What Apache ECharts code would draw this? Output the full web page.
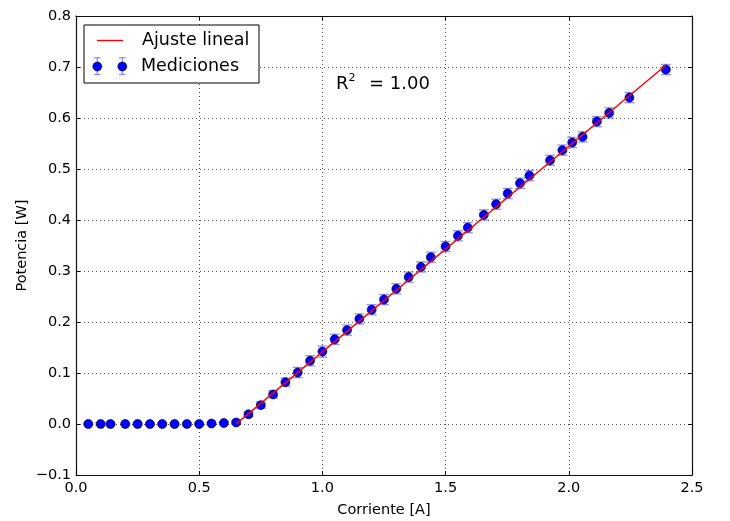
<!DOCTYPE html>
<html>
<head>
<meta charset="utf-8">
<script src="https://cdn.jsdelivr.net/npm/echarts@6/dist/echarts.min.js"></script>
<style>html,body{margin:0;padding:0;background:#fff;overflow:hidden;}#c{width:730px;height:521px;}</style>
</head>
<body>
<div id="c"></div>
<script>
// Data
const corriente = [0.05,0.10,0.14,0.20,0.25,0.30,0.35,0.40,0.45,0.50,0.55,0.60,0.65,0.70,0.75,0.80,0.85,0.90,0.95,1.00,1.05,1.10,1.15,1.20,1.25,1.30,1.35,1.40,1.44,1.50,1.55,1.59,1.655,1.705,1.752,1.802,1.84,1.924,1.974,2.014,2.056,2.114,2.164,2.246,2.394];
const potencia = [0,0,0,0,0,0,0,0,0,0,0.001,0.002,0.003,0.019,0.037,0.058,0.082,0.101,0.124,0.142,0.166,0.184,0.206,0.224,0.244,0.265,0.288,0.308,0.327,0.348,0.369,0.385,0.410,0.431,0.452,0.472,0.487,0.517,0.537,0.552,0.563,0.593,0.610,0.640,0.695];
const errores = [0.002,0.002,0.002,0.002,0.002,0.002,0.002,0.002,0.002,0.002,0.002,0.002,0.003,0.005,0.006,0.007,0.008,0.010,0.010,0.011,0.010,0.010,0.010,0.010,0.010,0.010,0.010,0.010,0.010,0.010,0.010,0.010,0.010,0.010,0.010,0.010,0.010,0.010,0.010,0.010,0.010,0.010,0.010,0.010,0.010];
const ajusteX = [0.65, 2.394];
const ajusteY = [0.0002, 0.7035];
const xTicks = [0.0, 0.5, 1.0, 1.5, 2.0, 2.5];
const yTicks = [-0.1, 0.0, 0.1, 0.2, 0.3, 0.4, 0.5, 0.6, 0.7, 0.8];

const FONT = 'DejaVu Sans';
const fmt = v => (v < 0 ? '\u2212' : '') + Math.abs(v).toFixed(1);

const puntos = corriente.map((x, i) => [x, potencia[i]]);
const barras = corriente.map((x, i) => [x, potencia[i] - errores[i], potencia[i] + errores[i]]);
const ajuste = ajusteX.map((x, i) => [x, ajusteY[i]]);

const chart = echarts.init(document.getElementById('c'), null, {renderer: 'canvas', width: 730, height: 521});
const ERR = 'rgba(40,40,255,0.5)';

const baseAxis = {
  type: 'value',
  axisLine: {show: true, onZero: false, lineStyle: {color: '#111', width: 1.2}},
  axisTick: {show: true, inside: true, length: 4, lineStyle: {color: '#000'}},
  splitLine: {show: false}
};

chart.setOption({
  animation: false,
  backgroundColor: '#fff',
  grid: {left: 76, right: 38, top: 16, bottom: 46, containLabel: false, outerBoundsMode: 'none'},
  xAxis: [
    Object.assign({}, baseAxis, {
      min: xTicks[0], max: xTicks[xTicks.length - 1], interval: 0.5,
      position: 'bottom',
      name: 'Corriente [A]', nameLocation: 'middle', nameGap: 28,
      nameTextStyle: {fontFamily: FONT, fontSize: 14.5, color: '#000'},
      axisLabel: {formatter: fmt, fontFamily: FONT, fontSize: 14.5, color: '#000', margin: 6},
      splitLine: {show: true, lineStyle: {color: '#555', type: [1, 3], width: 1}}
    }),
    Object.assign({}, baseAxis, {
      min: xTicks[0], max: xTicks[xTicks.length - 1], interval: 0.5,
      position: 'top', axisLabel: {show: false}
    })
  ],
  yAxis: [
    Object.assign({}, baseAxis, {
      min: yTicks[0], max: yTicks[yTicks.length - 1], interval: 0.1,
      position: 'left',
      name: 'Potencia [W]', nameLocation: 'middle', nameGap: 46, nameMoveOverlap: false,
      nameTextStyle: {fontFamily: FONT, fontSize: 14.5, color: '#000'},
      axisLabel: {formatter: fmt, fontFamily: FONT, fontSize: 14.5, color: '#000', margin: 5},
      splitLine: {show: true, lineStyle: {color: '#555', type: [1, 3], width: 1}}
    }),
    Object.assign({}, baseAxis, {
      min: yTicks[0], max: yTicks[yTicks.length - 1], interval: 0.1,
      position: 'right', axisLabel: {show: false}
    })
  ],
  series: [
    {
      type: 'custom', name: 'errores', xAxisIndex: 0, yAxisIndex: 0, z: 2,
      data: barras,
      renderItem: function (params, api) {
        const x = api.value(0);
        const lo = api.coord([x, api.value(1)]);
        const hi = api.coord([x, api.value(2)]);
        const st = {stroke: ERR, lineWidth: 1.3};
        return {type: 'group', children: [
          {type: 'line', shape: {x1: lo[0], y1: lo[1], x2: hi[0], y2: hi[1]}, style: st},
          {type: 'line', shape: {x1: lo[0] - 5, y1: lo[1], x2: lo[0] + 5, y2: lo[1]}, style: st},
          {type: 'line', shape: {x1: hi[0] - 5, y1: hi[1], x2: hi[0] + 5, y2: hi[1]}, style: st}
        ]};
      }
    },
    {
      type: 'scatter', name: 'Mediciones', z: 3, data: puntos,
      symbol: 'circle', symbolSize: 9,
      itemStyle: {color: '#0000ff', borderColor: '#000', borderWidth: 0.6, opacity: 1}
    },
    {
      type: 'line', name: 'Ajuste lineal', z: 4, data: ajuste,
      showSymbol: false, symbol: 'none',
      lineStyle: {color: '#ff0000', width: 1.4}
    }
  ],
  graphic: [
    {type: 'rect', shape: {x: 84, y: 25, width: 175, height: 58}, style: {fill: '#fff', stroke: '#000', lineWidth: 1}, z: 10},
    {type: 'line', shape: {x1: 97, y1: 40.5, x2: 123, y2: 40.5}, style: {stroke: '#ff0000', lineWidth: 1.4}, z: 11},
    {type: 'text', x: 142, y: 40.5, style: {text: 'Ajuste lineal', fontFamily: FONT, fontSize: 17.5, fill: '#000', verticalAlign: 'middle', align: 'left'}, z: 11},
    {type: 'line', shape: {x1: 97.3, y1: 57.7, x2: 97.3, y2: 74.5}, style: {stroke: ERR, lineWidth: 1.3}, z: 11},
    {type: 'line', shape: {x1: 94, y1: 57.7, x2: 100.6, y2: 57.7}, style: {stroke: ERR, lineWidth: 1.3}, z: 11},
    {type: 'line', shape: {x1: 94, y1: 74.5, x2: 100.6, y2: 74.5}, style: {stroke: ERR, lineWidth: 1.3}, z: 11},
    {type: 'line', shape: {x1: 122.3, y1: 57.7, x2: 122.3, y2: 74.5}, style: {stroke: ERR, lineWidth: 1.3}, z: 11},
    {type: 'line', shape: {x1: 119, y1: 57.7, x2: 125.6, y2: 57.7}, style: {stroke: ERR, lineWidth: 1.3}, z: 11},
    {type: 'line', shape: {x1: 119, y1: 74.5, x2: 125.6, y2: 74.5}, style: {stroke: ERR, lineWidth: 1.3}, z: 11},
    {type: 'circle', shape: {cx: 97.3, cy: 66.5, r: 4.5}, style: {fill: '#0000ff', stroke: '#000', lineWidth: 0.6}, z: 12},
    {type: 'circle', shape: {cx: 122.3, cy: 66.5, r: 4.5}, style: {fill: '#0000ff', stroke: '#000', lineWidth: 0.6}, z: 12},
    {type: 'text', x: 141, y: 66.5, style: {text: 'Mediciones', fontFamily: FONT, fontSize: 17.5, fill: '#000', verticalAlign: 'middle', align: 'left'}, z: 11},
    {type: 'text', x: 336, y: 84.5, style: {text: 'R', fontFamily: FONT, fontSize: 18, fill: '#000', verticalAlign: 'middle', align: 'left'}, z: 11},
    {type: 'text', x: 348.5, y: 73, style: {text: '2', fontFamily: FONT, fontSize: 11, fill: '#000', verticalAlign: 'top', align: 'left'}, z: 11},
    {type: 'text', x: 369, y: 84.5, style: {text: '= 1.00', fontFamily: FONT, fontSize: 18, fill: '#000', verticalAlign: 'middle', align: 'left'}, z: 11}
  ]
});
</script>
</body>
</html>
